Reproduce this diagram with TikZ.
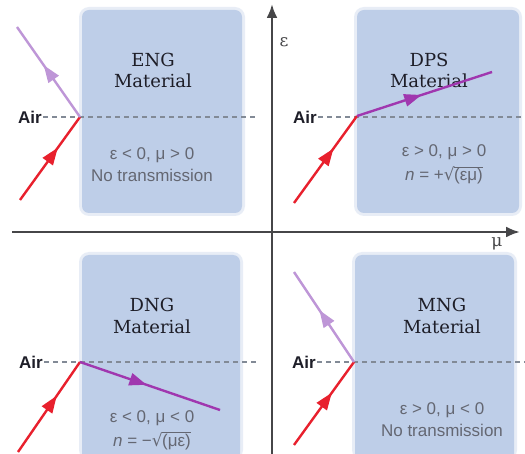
\documentclass[tikz,border=0pt]{standalone}
\usepackage{fontspec}
\setmainfont{DejaVu Serif}
\newfontfamily\lsans{Liberation Sans}
\newfontfamily\djs{DejaVu Sans}
\usetikzlibrary{arrows.meta,decorations.markings}
\definecolor{boxblue}{RGB}{190,206,232}
\definecolor{raycol}{RGB}{232,32,45}
\definecolor{lav}{RGB}{190,150,215}
\definecolor{vio}{RGB}{160,55,175}
\definecolor{axcol}{RGB}{70,70,72}
\definecolor{dashcol}{RGB}{130,138,150}
\definecolor{txtgrey}{RGB}{100,103,114}
\definecolor{txtdark}{RGB}{30,30,40}
\newcommand{\myroot}[1]{{\djs √}\kern-0.5pt$\overline{\mbox{#1}}$}
\tikzset{
  mat/.style={fill=boxblue, rounded corners=7pt, draw=none},
  matsoft/.style={fill=boxblue, rounded corners=10pt, draw=none, opacity=0.35},
  title/.style={font=\fontsize{18}{21}\selectfont, text=txtdark, anchor=base, inner sep=0pt},
  cond/.style={font=\lsans\fontsize{17}{21}\selectfont, text=txtgrey, anchor=base, inner sep=0pt},
  airlbl/.style={font=\lsans\bfseries\fontsize{17}{20}\selectfont, text=txtdark, inner sep=1pt},
  airline/.style={draw=dashcol, line width=1.3pt, dash pattern=on 5pt off 4pt},
  midarrow/.style={decoration={markings, mark=at position #1 with {\fill (8pt,0pt) -- (-9pt,6.5pt) -- (-9pt,-6.5pt) -- cycle;}}, postaction={decorate}},
  inray/.style={draw=raycol, line width=2.4pt, fill=raycol, midarrow=0.55},
  reflray/.style={draw=lav, line width=2.4pt, fill=lav, midarrow=0.5},
  transray/.style={draw=vio, line width=2.4pt, fill=vio, midarrow=0.42},
  axis/.style={draw=axcol, line width=2.6pt, -{Latex[length=14pt,width=11pt]}},
  axlbl/.style={font=\fontsize{17}{20}\selectfont, text=axcol}
}
\begin{document}
\begin{tikzpicture}[x=1pt,y=-1pt]
\useasboundingbox (0,0) rectangle (525,454);
\fill[white] (0,0) rectangle (525,454);
% material boxes
\fill[matsoft] (79,7) rectangle (245,216);
\fill[mat] (82,10) rectangle (242,213);
\fill[matsoft] (354,7) rectangle (522,216);
\fill[mat] (357,10) rectangle (519,213);
\fill[matsoft] (79,252) rectangle (243,460);
\fill[mat] (82,255) rectangle (240,462);
\fill[matsoft] (352,252) rectangle (517,460);
\fill[mat] (355,255) rectangle (514,462);
% axes
\coordinate (vb) at (272,454);
\coordinate (vt) at (272,4);
\coordinate (hl) at (12,232);
\coordinate (hr) at (520,232);
\draw[axis] (vb) -- (vt);
\draw[axis] (hl) -- (hr);
\node[axlbl] (eps) at (284,42) {ε};
\node[axlbl] (mu) at (497,244) {μ};
% texts
\node[title] (engt1) at (153,67) {ENG};
\node[title] (engt2) at (153,88) {Material};
\node[cond] (engc1) at (152,160) {ε < 0, μ > 0};
\node[cond] (engc2) at (152,182) {No transmission};
\node[title] (dpst1) at (429,67) {DPS};
\node[title] (dpst2) at (429,88) {Material};
\node[cond] (dpsc1) at (444,157) {ε > 0, μ > 0};
\node[cond] (dpsc2) at (444,181) {\textit{n} = +\myroot{(εμ)}};
\node[title] (dngt1) at (152,312) {DNG};
\node[title] (dngt2) at (152,334) {Material};
\node[cond] (dngc1) at (152,422) {ε < 0, μ < 0};
\node[cond] (dngc2) at (152,446) {\textit{n} = −\myroot{(με)}};
\node[title] (mngt1) at (442,312) {MNG};
\node[title] (mngt2) at (442,334) {Material};
\node[cond] (mngc1) at (442,414) {ε > 0, μ < 0};
\node[cond] (mngc2) at (442,436) {No transmission};
% Air labels and dashed lines
\node[airlbl] (air1) at (30,117) {Air};
\coordinate (d1) at (258,117);
\draw[airline] (air1.east) -- (d1);
\node[airlbl] (air2) at (305,117) {Air};
\coordinate (d2) at (525,117);
\draw[airline] (air2.east) -- (d2);
\node[airlbl] (air3) at (31,362) {Air};
\coordinate (d3) at (258,362);
\draw[airline] (air3.east) -- (d3);
\node[airlbl] (air4) at (304,362) {Air};
\coordinate (d4) at (525,362);
\draw[airline] (air4.east) -- (d4);
% rays ENG
\coordinate (s1) at (20,200);
\coordinate (p1) at (80,117);
\coordinate (r1) at (17,27);
\draw[inray] (s1) -- (p1);
\draw[reflray] (p1) -- (r1);
% rays DPS
\coordinate (s2) at (294,203);
\coordinate (p2) at (357,116);
\coordinate (t2) at (492,72);
\draw[inray] (s2) -- (p2);
\draw[transray] (p2) -- (t2);
% rays DNG
\coordinate (s3) at (18,452);
\coordinate (p3) at (80,362);
\coordinate (t3) at (220,410);
\draw[inray] (s3) -- (p3);
\draw[transray] (p3) -- (t3);
% rays MNG
\coordinate (s4) at (294,445);
\coordinate (p4) at (354,362);
\coordinate (r4) at (294,272);
\draw[inray] (s4) -- (p4);
\draw[reflray] (p4) -- (r4);
\end{tikzpicture}
\end{document}
